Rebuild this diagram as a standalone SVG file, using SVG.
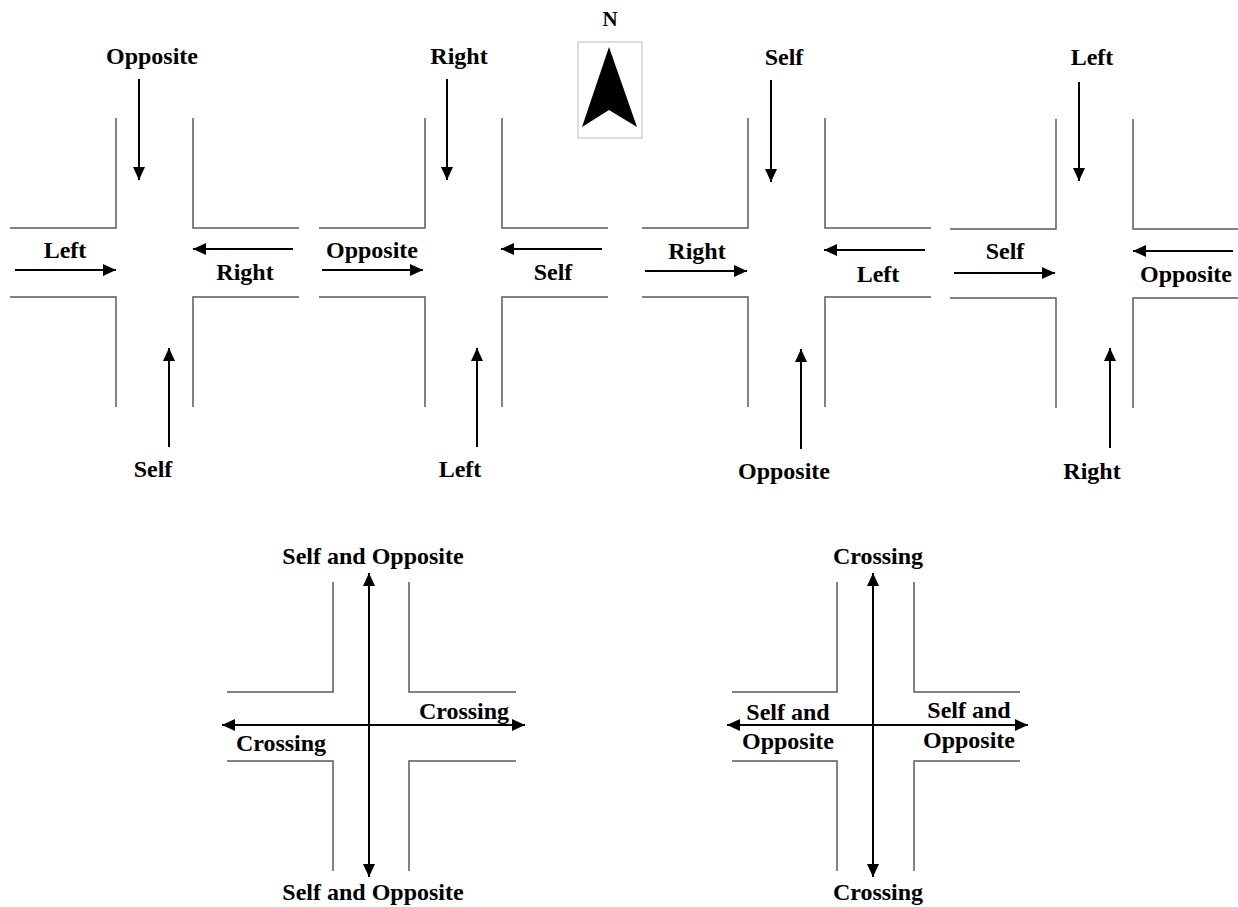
<svg xmlns="http://www.w3.org/2000/svg" width="1238" height="907" viewBox="0 0 1238 907">
<style>
.road{fill:none;stroke:#5a5a5a;stroke-width:1.5}
.arr{fill:none;stroke:#000;stroke-width:2;marker-end:url(#ah)}
.dbl{fill:none;stroke:#000;stroke-width:2;marker-end:url(#ah);marker-start:url(#ah)}
text{font-family:"Liberation Serif","Times New Roman",serif;font-weight:bold;font-size:24px;text-anchor:middle;fill:#000}
</style>
<defs>
<marker id="ah" markerUnits="userSpaceOnUse" markerWidth="14" markerHeight="13" refX="13" refY="6" orient="auto-start-reverse" viewBox="0 0 14 13">
<path d="M0,0 L13,6 L0,12 z" fill="#000"/>
</marker>
<g id="roads4">
<polyline points="116,118 116,228 10,228"/>
<polyline points="193,118 193,228 299,228"/>
<polyline points="10,297 116,297 116,407"/>
<polyline points="299,297 193,297 193,407"/>
</g>
</defs>
<rect width="1238" height="907" fill="#fff"/>

<g id="intersection-1">
<use href="#roads4" class="road"/>
<text x="152" y="64">Opposite</text>
<text x="65" y="258">Left</text>
<text x="245" y="280">Right</text>
<text x="153" y="477">Self</text>
</g>
<g id="intersection-2">
<use href="#roads4" class="road" transform="translate(309,0)"/>
<text x="459" y="64">Right</text>
<text x="372" y="258">Opposite</text>
<text x="553" y="280">Self</text>
<text x="460" y="477">Left</text>
</g>
<g id="intersection-3">
<use href="#roads4" class="road" transform="translate(632,0)"/>
<text x="784" y="65">Self</text>
<text x="697" y="259">Right</text>
<text x="878" y="282">Left</text>
<text x="784" y="479">Opposite</text>
</g>
<g id="intersection-4">
<use href="#roads4" class="road" transform="translate(940,1)"/>
<text x="1092" y="65">Left</text>
<text x="1005" y="259">Self</text>
<text x="1186" y="282">Opposite</text>
<text x="1092" y="479">Right</text>
</g>

<g id="compass">
<text x="610" y="26" style="font-size:21px">N</text>
<rect x="578" y="42" width="64" height="96" fill="#fff" stroke="#bbb" stroke-width="1"/>
<polygon points="609,47 637,127 609,110 582,127" fill="#000"/>
</g>

<g id="intersection-5">
<polyline class="road" points="333,582 333,692 227,692"/>
<polyline class="road" points="409,582 409,692 516,692"/>
<polyline class="road" points="227,761 333,761 333,871"/>
<polyline class="road" points="516,761 409,761 409,871"/>
<text x="373" y="564">Self and Opposite</text>
<text x="373" y="900">Self and Opposite</text>
<text x="464" y="719">Crossing</text>
<text x="281" y="751">Crossing</text>
</g>
<g id="intersection-6">
<polyline class="road" points="837,582 837,692 732,692"/>
<polyline class="road" points="914,582 914,692 1020,692"/>
<polyline class="road" points="732,761 837,761 837,871"/>
<polyline class="road" points="1020,761 914,761 914,871"/>
<text x="878" y="564">Crossing</text>
<text x="878" y="900">Crossing</text>
<text x="788" y="720">Self and</text>
<text x="788" y="749">Opposite</text>
<text x="969" y="718">Self and</text>
<text x="969" y="748">Opposite</text>
</g>

<g id="connectors">
<line class="arr" x1="139" y1="79" x2="139" y2="180"/>
<line class="arr" x1="15" y1="270" x2="116" y2="270"/>
<line class="arr" x1="293" y1="249" x2="193" y2="249"/>
<line class="arr" x1="169" y1="447" x2="169" y2="348"/>

<line class="arr" x1="447" y1="79" x2="447" y2="180"/>
<line class="arr" x1="322" y1="270" x2="423" y2="270"/>
<line class="arr" x1="602" y1="249" x2="501" y2="249"/>
<line class="arr" x1="477" y1="447" x2="477" y2="348"/>

<line class="arr" x1="771" y1="80" x2="771" y2="182"/>
<line class="arr" x1="645" y1="271" x2="747" y2="271"/>
<line class="arr" x1="925" y1="250" x2="824" y2="250"/>
<line class="arr" x1="801" y1="449" x2="801" y2="349"/>

<line class="arr" x1="1079" y1="82" x2="1079" y2="181"/>
<line class="arr" x1="954" y1="273" x2="1055" y2="273"/>
<line class="arr" x1="1233" y1="251" x2="1133" y2="251"/>
<line class="arr" x1="1110" y1="448" x2="1110" y2="348"/>

<line class="dbl" x1="369" y1="573" x2="369" y2="877"/>
<line class="dbl" x1="222" y1="725" x2="525" y2="725"/>
<line class="dbl" x1="873" y1="573" x2="873" y2="877"/>
<line class="dbl" x1="727" y1="725" x2="1028" y2="725"/>
</g>
</svg>
